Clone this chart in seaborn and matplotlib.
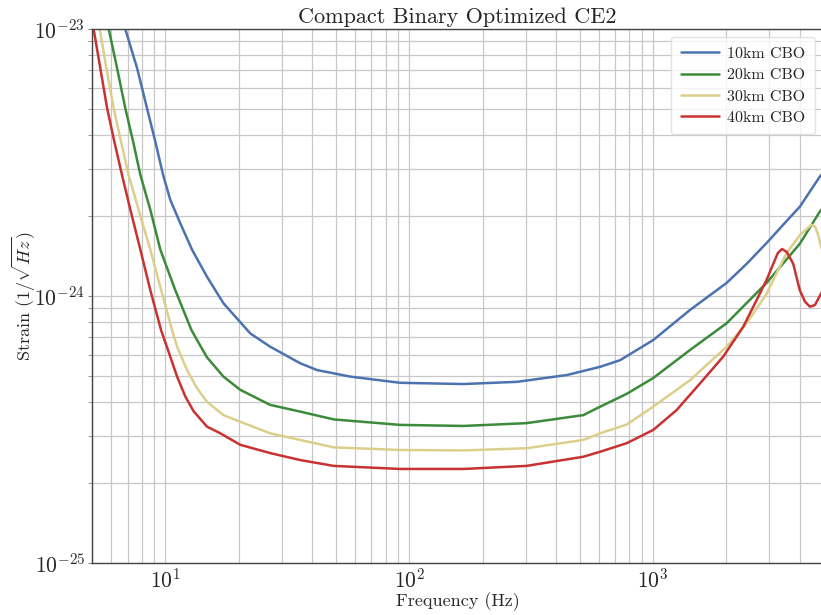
import numpy as np
import pandas as pd
import seaborn as sns
import matplotlib.pyplot as plt

# values (frequency in Hz, strain in 1/sqrt(Hz))
f_10 = [6.85, 7.66, 8.41, 9.10, 9.79, 10.48, 11.52, 12.87, 14.82, 17.3, 22.3, 26.9, 35.7, 41.9, 57.3, 91.8,
        167, 277, 444, 607, 733, 1002, 1419, 2005, 2421, 2924, 3420, 4000, 4830, 5000]
h_10 = [1e-23, 7.13e-24, 5.05e-24, 3.78e-24, 2.84e-24, 2.29e-24, 1.87e-24, 1.49e-24, 1.18e-24, 9.40e-25,
        7.24e-25, 6.46e-25, 5.60e-25, 5.28e-25, 4.99e-25, 4.73e-25, 4.68e-25, 4.77e-25, 5.06e-25, 5.43e-25,
        5.75e-25, 6.84e-25, 8.87e-25, 1.12e-24, 1.32e-24, 1.58e-24, 1.85e-24, 2.16e-24, 2.80e-24, 2.9e-24]

f_20 = [5.86, 6.34, 6.85, 7.38, 7.90, 8.68, 9.54, 10.99, 12.79, 13.49, 14.8, 17.3, 20.3, 26.9, 35.7, 49.0,
        91.8, 167, 303, 518, 607, 780, 1002, 1419, 2005, 2924, 4000, 4830, 5000]
h_20 = [1e-23, 7.13e-24, 5.05e-24, 3.78e-24, 2.84e-24, 2.10e-24, 1.49e-24, 1.05e-24, 7.46e-25, 6.84e-25,
        5.90e-25, 4.99e-25, 4.45e-25, 3.91e-25, 3.69e-25, 3.45e-25, 3.29e-25, 3.26e-25, 3.34e-25, 3.58e-25,
        3.85e-25, 4.30e-25, 4.93e-25, 6.28e-25, 7.91e-25, 1.12e-24, 1.57e-24, 2.07e-24, 2.15e-24]

f_30 = [5.38, 5.73, 6.14, 6.58, 7.07, 7.77, 8.68, 9.54, 10.65, 11.17, 12.27, 13.49, 14.8, 17.3, 20.3, 26.9,
        35.7, 49.0, 91.8, 167, 303, 518, 607, 780, 1002, 1419, 2005, 2421, 2924, 3214, 3532, 4000, 4467,
        4613, 4742, 4886, 5000]
h_30 = [1e-23, 7.13e-24, 5.05e-24, 3.78e-24, 2.84e-24, 2.10e-24, 1.49e-24, 1.08e-24, 7.46e-25, 6.46e-25,
        5.28e-25, 4.51e-25, 4.02e-25, 3.58e-25, 3.38e-25, 3.06e-25, 2.89e-25, 2.71e-25, 2.65e-25, 2.64e-25,
        2.69e-25, 2.89e-25, 3.06e-25, 3.30e-25, 3.85e-25, 4.84e-25, 6.46e-25, 7.91e-25, 1.02e-24, 1.22e-24,
        1.45e-24, 1.69e-24, 1.85e-24, 1.82e-24, 1.71e-24, 1.53e-24, 1.45e-24]

f_40 = [5.08, 5.41, 5.77, 6.18, 6.64, 7.19, 7.90, 8.68, 9.60, 10.31, 11.17, 12.08, 13.06, 14.82, 16.8, 20.3,
        26.9, 35.7, 49.0, 91.8, 167, 303, 518, 607, 780, 1002, 1250, 1560, 1941, 2344, 2661, 2924, 3112,
        3252, 3381, 3540, 3758, 4000, 4198, 4397, 4613, 4886, 5000]
h_40 = [1e-23, 7.13e-24, 5.05e-24, 3.78e-24, 2.84e-24, 2.10e-24, 1.49e-24, 1.05e-24, 7.46e-25, 6.18e-25,
        4.99e-25, 4.20e-25, 3.70e-25, 3.24e-25, 3.06e-25, 2.77e-25, 2.58e-25, 2.43e-25, 2.31e-25, 2.25e-25,
        2.25e-25, 2.31e-25, 2.50e-25, 2.61e-25, 2.81e-25, 3.15e-25, 3.74e-25, 4.71e-25, 5.93e-25, 7.67e-25,
        9.66e-25, 1.15e-24, 1.32e-24, 1.45e-24, 1.50e-24, 1.46e-24, 1.32e-24, 1.05e-24, 9.53e-25, 9.12e-25,
        9.25e-25, 1.02e-24, 1.06e-24]

labels = ['10km CBO', '20km CBO', '30km CBO', '40km CBO']
colors = ['#4c72b0', '#3b8b3b', '#dccf8b', '#c93232']

df = pd.concat([
    pd.DataFrame({'f': f, 'h': h, 'det': lab})
    for f, h, lab in zip([f_10, f_20, f_30, f_40], [h_10, h_20, h_30, h_40], labels)
])

sns.set_style('whitegrid')
plt.rcParams['font.family'] = 'serif'
plt.rcParams['font.serif'] = ['cmr10', 'DejaVu Serif']
plt.rcParams['mathtext.fontset'] = 'cm'
plt.rcParams['axes.unicode_minus'] = False
plt.rcParams['axes.formatter.use_mathtext'] = True

fig = plt.figure(figsize=(8.21, 6.15), dpi=100)
ax = fig.add_axes([0.112, 0.0846, 0.891, 0.8682])

sns.lineplot(data=df, x='f', y='h', hue='det', palette=colors, estimator=None,
             sort=False, linewidth=1.8, ax=ax)

ax.set_xscale('log')
ax.set_yscale('log')
ax.set_xlim(5, 5000)
ax.set_ylim(1e-25, 1e-23)

ax.grid(True, which='major', color='#c8c8c8', linewidth=0.9)
ax.grid(True, which='minor', color='#c8c8c8', linewidth=0.9)
for side in ['left', 'bottom', 'top']:
    ax.spines[side].set_color('#444444')
    ax.spines[side].set_linewidth(1.0)
ax.tick_params(axis='y', which='both', left=True, length=3, color='#888888', labelsize=15.5, pad=2)
ax.tick_params(axis='x', which='both', bottom=False, length=0, labelsize=15.5, pad=3)

ax.set_title('Compact Binary Optimized CE2', fontsize=16, pad=4)
ax.set_xlabel('Frequency (Hz)', fontsize=13, labelpad=1)
ax.set_ylabel(r'Strain $(1/\sqrt{Hz})$', fontsize=13, labelpad=-3)

handles, _ = ax.get_legend_handles_labels()
ax.legend(handles, labels, loc='upper right', fontsize=11.5, frameon=True,
          edgecolor='#dddddd', handlelength=2.4, handletextpad=0.5, borderpad=0.6,
          labelspacing=0.45, borderaxespad=0, bbox_to_anchor=(0.988, 0.985))

fig.savefig('out.png', dpi=100)
